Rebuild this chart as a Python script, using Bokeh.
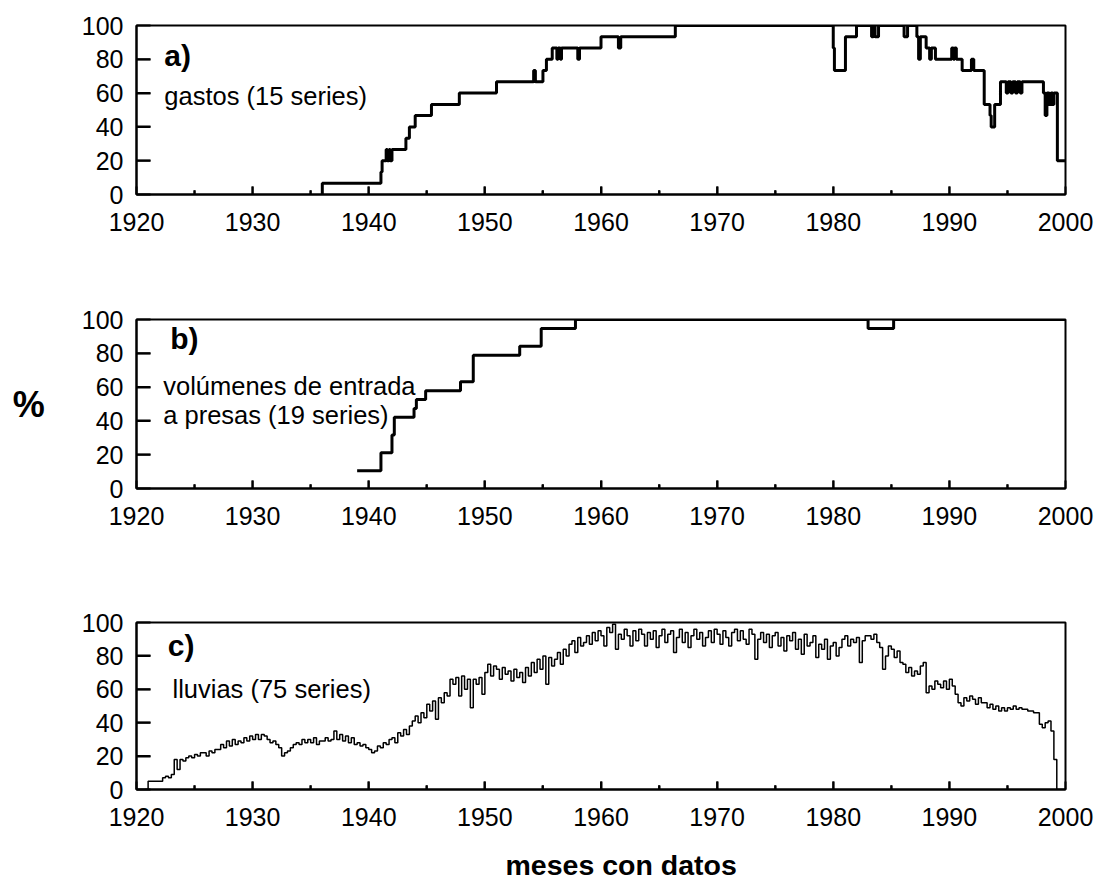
from bokeh.plotting import figure
from bokeh.models import Range1d, FixedTicker, Label, Title
from bokeh.layouts import column
from bokeh.embed import file_html
from bokeh.resources import INLINE

FONT = "Liberation Sans"

# ---------------- data ----------------
x_ticks = [1920, 1930, 1940, 1950, 1960, 1970, 1980, 1990, 2000]
x_minor = [1925, 1935, 1945, 1955, 1965, 1975, 1985, 1995]
y_ticks = [0, 20, 40, 60, 80, 100]

# a) gastos (15 series): step changes (year, % of series with data)
a_years = [1935.9, 1936.0, 1941.05, 1941.15, 1941.5, 1941.6, 1941.75, 1941.85, 1942.0,
           1943.2, 1943.5, 1944.0, 1945.4, 1947.8, 1951.0, 1954.2, 1954.35, 1955.0,
           1955.3, 1955.8, 1956.2, 1956.3, 1956.5, 1956.6, 1958.0, 1958.15, 1960.0,
           1961.5, 1961.7, 1966.4, 1980.0, 1980.1, 1981.05, 1982.0, 1983.3, 1983.45,
           1983.6, 1983.9, 1986.1, 1986.4, 1987.2, 1987.35, 1987.5, 1988.0, 1988.3,
           1988.45, 1988.8, 1990.2, 1990.35, 1990.45, 1990.6, 1991.1, 1991.9, 1992.1,
           1993.0, 1993.5, 1993.6, 1993.9, 1994.4, 1994.9, 1995.05, 1995.3, 1995.45,
           1995.7, 1995.85, 1996.1, 1996.25, 1998.1, 1998.25, 1998.4, 1998.6, 1998.75,
           1998.9, 1999.0, 1999.3, 2000.0]
a_values = [0, 6.7, 13.3, 20, 26.7, 20, 26.7, 20, 26.7,
            33.3, 40, 46.7, 53.3, 60, 66.7, 73.3, 66.7, 73.3,
            80, 86.7, 80, 86.7, 80, 86.7, 80, 86.7, 93.3,
            86.7, 93.3, 100, 86.7, 73.3, 93.3, 100, 93.3, 100,
            93.3, 100, 93.3, 100, 93.3, 80, 93.3, 86.7, 80,
            86.7, 80, 86.7, 80, 86.7, 80, 73.3, 80, 73.3,
            53.3, 46.7, 40, 53.3, 66.7, 60, 66.7, 60, 66.7,
            60, 66.7, 60, 66.7, 60, 46.7, 60, 53.3, 60,
            53.3, 60, 20, 20]

# b) volumenes de entrada a presas (19 series)
b_years = [1939.0, 1941.05, 1942.0, 1942.2, 1943.9, 1944.1, 1944.9, 1947.9, 1949.0,
           1953.0, 1954.85, 1957.8, 1983.0, 1985.2, 2000.0]
b_values = [10.5, 21.1, 31.6, 42.1, 47.4, 52.6, 57.9, 63.2, 78.9,
            84.2, 94.7, 100, 94.7, 100, 100]

# c) lluvias (75 series): quarterly readings starting 1920.75
c_start = 1920.75
c_values = [
    0,
    5, 5, 5, 5,        # 1921
    5, 7, 8, 7,        # 1922
    9, 18, 12, 18,     # 1923
    17, 19, 20, 19,    # 1924
    21, 20, 22, 22,    # 1925
    20, 23, 22, 24,    # 1926
    24, 27, 25, 29,    # 1927
    26, 30, 27, 29,    # 1928
    28, 31, 29, 32,    # 1929
    30, 33, 30, 33,    # 1930
    32, 30, 28, 29,    # 1931
    27, 25, 20, 22,    # 1932
    23, 25, 27, 28,    # 1933
    27, 30, 28, 30,    # 1934
    28, 31, 27, 29,    # 1935
    29, 31, 29, 30,    # 1936
    35, 30, 33, 29,    # 1937
    32, 28, 31, 27,    # 1938
    28, 26, 27, 25,    # 1939
    24, 22, 23, 26,    # 1940
    25, 28, 27, 30,    # 1941
    31, 28, 34, 32,    # 1942
    36, 33, 38, 41,    # 1943
    44, 40, 46, 43,    # 1944
    51, 47, 53, 42,    # 1945
    55, 52, 58, 56,    # 1946
    66, 63, 67, 56,    # 1947
    68, 60, 66, 49,    # 1948
    66, 63, 67, 57,    # 1949
    70, 75, 68, 74,    # 1950
    72, 66, 73, 69,    # 1951
    71, 65, 72, 67,    # 1952
    70, 64, 73, 68,    # 1953
    76, 70, 78, 72,    # 1954
    80, 63, 79, 74,    # 1955
    78, 82, 75, 84,    # 1956
    80, 87, 89, 82,    # 1957
    91, 86, 88, 92,    # 1958
    87, 94, 89, 95,    # 1959
    92, 86, 97, 94,    # 1960
    99, 84, 93, 90,    # 1961
    96, 92, 86, 95,    # 1962
    89, 96, 93, 86,    # 1963
    94, 90, 95, 85,    # 1964
    92, 96, 88, 93,    # 1965
    95, 82, 91, 96,    # 1966
    88, 94, 85, 92,    # 1967
    96, 90, 94, 86,    # 1968
    91, 95, 88, 96,    # 1969
    93, 87, 95, 91,    # 1970
    86, 94, 96, 89,    # 1971
    95, 90, 87, 96,    # 1972
    93, 78, 90, 94,    # 1973
    88, 93, 85, 92,    # 1974
    94, 86, 91, 83,    # 1975
    92, 89, 94, 84,    # 1976
    90, 81, 93, 86,    # 1977
    88, 92, 79, 87,    # 1978
    84, 90, 78, 86,    # 1979
    88, 80, 85, 90,    # 1980
    92, 86, 90, 88,    # 1981
    91, 76, 89, 92,    # 1982
    92, 90, 93, 88,    # 1983
    85, 72, 80, 86,    # 1984
    84, 79, 83, 76,    # 1985
    75, 70, 73, 68,    # 1986
    71, 69, 74, 76,    # 1987
    58, 62, 60, 65,    # 1988
    63, 61, 65, 60,    # 1989
    66, 62, 57, 52,    # 1990
    50, 55, 53, 56,    # 1991
    54, 51, 55, 52,    # 1992
    52, 49, 51, 48,    # 1993
    50, 47, 49, 47,    # 1994
    49, 48, 50, 48,    # 1995
    49, 48, 48, 47,    # 1996
    47, 46, 46, 39,    # 1997
    37, 40, 41, 35,    # 1998
    18, 0, 0, 0,       # 1999
    0,                 # 2000
]
c_years = [c_start + 0.25 * i for i in range(len(c_values))]

# inward tick lengths (style), in data units of each axis
Y_TICK_LEN = 1.2     # years  (~14 px)
X_MAJOR_LEN = 4.8    # percent (~8 px)
X_MINOR_LEN = 2.5    # percent (~4 px)
LW = 2

# ---------------- figures ----------------
def make_panel(top, bottom, fh):
    p = figure(frame_width=929, frame_height=fh,
               x_range=Range1d(1920, 2000), y_range=Range1d(0, 100),
               output_backend="svg", toolbar_location=None,
               min_border_left=136, min_border_right=30,
               min_border_top=top, min_border_bottom=bottom)
    p.xgrid.visible = False
    p.ygrid.visible = False
    p.outline_line_color = "black"
    p.outline_line_width = LW
    p.outline_line_alpha = 1.0
    p.background_fill_color = None
    p.border_fill_color = None

    xa = p.xaxis[0]
    xa.ticker = FixedTicker(ticks=x_ticks, minor_ticks=x_minor)
    xa.major_tick_in = 8
    xa.major_tick_out = 0
    xa.minor_tick_in = 4
    xa.minor_tick_out = 0
    xa.major_label_standoff = 18
    ya = p.yaxis[0]
    ya.ticker = FixedTicker(ticks=y_ticks, minor_ticks=[])
    ya.major_tick_in = 14
    ya.major_tick_out = 0
    ya.minor_tick_in = 0
    ya.minor_tick_out = 0
    ya.major_label_standoff = 13
    for ax in (xa, ya):
        ax.axis_line_color = "black"
        ax.axis_line_width = LW
        ax.major_tick_line_color = "black"
        ax.major_tick_line_width = LW
        ax.minor_tick_line_color = "black"
        ax.minor_tick_line_width = LW
        ax.major_label_text_font = FONT
        ax.major_label_text_font_size = "25px"
        ax.major_label_text_color = "black"

    # inward tick marks drawn from the tick arrays
    inner_y = y_ticks[1:-1]
    p.segment(x0=[1920] * len(inner_y), y0=inner_y,
              x1=[1920 + Y_TICK_LEN] * len(inner_y), y1=inner_y,
              line_color="black", line_width=LW)
    inner_x = x_ticks[1:-1]
    p.segment(x0=inner_x, y0=[0] * len(inner_x), x1=inner_x, y1=[X_MAJOR_LEN] * len(inner_x),
              line_color="black", line_width=LW)
    p.segment(x0=x_minor, y0=[0] * len(x_minor), x1=x_minor, y1=[X_MINOR_LEN] * len(x_minor),
              line_color="black", line_width=LW)
    return p


def add_text(p, x, y, txt, size="25.5px", bold=False):
    p.add_layout(Label(x=x, y=y, text=txt, text_font=FONT, text_font_size=size,
                       text_font_style="bold" if bold else "normal",
                       text_color="black", text_align="left", text_baseline="middle"))


pa = make_panel(25, 50, 169)
pa.step(a_years, a_values, mode="after", line_color="black", line_width=3)
add_text(pa, 1922.4, 82, "a)", size="30px", bold=True)
add_text(pa, 1922.4, 58, "gastos (15 series)")

pb = make_panel(75, 40, 169)
pb.step(b_years, b_values, mode="after", line_color="black", line_width=3)
add_text(pb, 1922.9, 89, "b)", size="30px", bold=True)
add_text(pb, 1922.3, 60.5, "volúmenes de entrada")
add_text(pb, 1922.3, 43.5, "a presas (19 series)")
yb = pb.yaxis[0]
yb.axis_label = "%"
yb.axis_label_text_font = FONT
yb.axis_label_text_font_size = "36px"
yb.axis_label_text_font_style = "bold"
yb.axis_label_text_color = "black"
yb.axis_label_standoff = 34
try:
    yb.axis_label_orientation = "horizontal"
except Exception:
    pass

pc = make_panel(94, 86, 167)
pc.step(c_years, c_values, mode="after", line_color="black", line_width=1.5)
add_text(pc, 1922.7, 86, "c)", size="30px", bold=True)
add_text(pc, 1923.1, 60, "lluvias (75 series)")
pc.add_layout(Title(text="meses con datos", align="left", offset=369, standoff=36,
                    text_font=FONT, text_font_size="28.5px", text_font_style="bold",
                    text_color="black"), "below")

layout = column(pa, pb, pc, spacing=0)
open("out.html", "w").write(file_html(layout, INLINE))
